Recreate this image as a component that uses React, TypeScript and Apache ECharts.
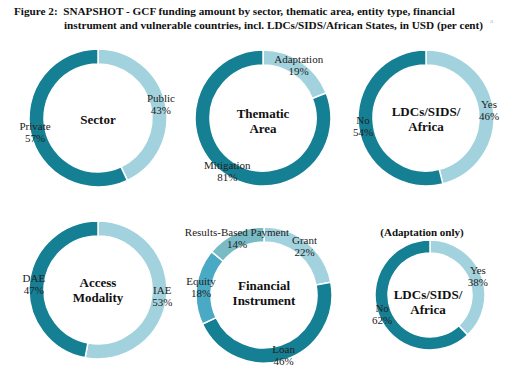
import React, { useEffect, useRef } from "react";
import * as echarts from "echarts";

const DARK = "#157f94";
const LIGHT = "#a2d2dd";
const MID = "#4aa9c4";
const SOFT = "#78bbc4";

const sectorNames = ["Public", "Private"];
const sectorValues = [43, 57];
const thematicNames = ["Adaptation", "Mitigation"];
const thematicValues = [19, 81];
const ldcNames = ["Yes", "No"];
const ldcValues = [46, 54];
const accessNames = ["IAE", "DAE"];
const accessValues = [53, 47];
const instrumentNames = ["Grant", "Loan", "Equity", "Results-Based Payment"];
const instrumentValues = [22, 46, 18, 14];
const adaptLdcNames = ["Yes", "No"];
const adaptLdcValues = [38, 62];

const FONT = "'Liberation Serif', 'DejaVu Serif', serif";

export default function App() {
  const ref = useRef<HTMLDivElement>(null);
  useEffect(() => {
    if (!ref.current) return;
    const chart = echarts.init(ref.current, undefined, { renderer: "svg" });

    const mk = (names: string[], values: number[], colors: string[], cx: number, cy: number, r: number, ir: number) => ({
      type: "pie",
      center: [cx, cy],
      radius: [ir, r],
      startAngle: 90,
      clockwise: true,
      avoidLabelOverlap: false,
      label: {
        show: true,
        position: "inside",
        formatter: (p: any) => `${p.name}\n${p.value}%`,
        color: "#222",
        fontFamily: FONT,
        fontSize: 11,
        lineHeight: 12,
      },
      labelLine: { show: false },
      itemStyle: { borderColor: "#fff", borderWidth: 1.5 },
      emphasis: { disabled: true },
      data: names.map((n, i) => ({ name: n, value: values[i], itemStyle: { color: colors[i] } })),
    });

    const centerText = (x: number, y: number, text: string) => ({
      type: "text",
      x,
      y,
      style: {
        text,
        fontFamily: FONT,
        fontSize: 13,
        fontWeight: "bold",
        fill: "#111",
        align: "center",
        verticalAlign: "middle",
        lineHeight: 15,
      },
    });

    chart.setOption({
      animation: false,
      backgroundColor: "#fff",
      series: [
        mk(sectorNames, sectorValues, [LIGHT, DARK], 98, 118, 69, 54),
        mk(thematicNames, thematicValues, [LIGHT, DARK], 263, 118, 68, 53),
        mk(ldcNames, ldcValues, [LIGHT, DARK], 426, 118, 68, 53),
        mk(accessNames, accessValues, [LIGHT, DARK], 98, 290, 69, 54),
        mk(instrumentNames, instrumentValues, [LIGHT, DARK, MID, SOFT], 264, 295, 68, 53),
        mk(adaptLdcNames, adaptLdcValues, [LIGHT, DARK], 430, 295, 55, 42),
      ],
      graphic: [
        {
          type: "text",
          x: 14,
          y: 11,
          style: {
            text: "Figure 2:  SNAPSHOT - GCF funding amount by sector, thematic area, entity type, financial",
            fontFamily: FONT,
            fontSize: 11.2,
            fontWeight: "bold",
            fill: "#111",
            verticalAlign: "middle",
          },
        },
        {
          type: "text",
          x: 64,
          y: 25,
          style: {
            text: "instrument and vulnerable countries, incl. LDCs/SIDS/African States, in USD (per cent)",
            fontFamily: FONT,
            fontSize: 11.2,
            fontWeight: "bold",
            fill: "#111",
            verticalAlign: "middle",
          },
        },
        {
          type: "text",
          x: 490,
          y: 21,
          style: { text: "a", fontFamily: FONT, fontSize: 7, fill: "#9cc8d3", verticalAlign: "middle" },
        },
        centerText(98, 119, "Sector"),
        centerText(263, 121, "Thematic\nArea"),
        centerText(426, 119, "LDCs/SIDS/\nAfrica"),
        centerText(98, 290, "Access\nModality"),
        centerText(264, 293, "Financial\nInstrument"),
        centerText(428, 302, "LDCs/SIDS/\nAfrica"),
        {
          type: "text",
          x: 422,
          y: 232,
          style: {
            text: "(Adaptation only)",
            fontFamily: FONT,
            fontSize: 11,
            fontWeight: "bold",
            fill: "#111",
            align: "center",
            verticalAlign: "middle",
          },
        },
      ],
    });
    return () => chart.dispose();
  }, []);
  return <div ref={ref} style={{ width: 523, height: 370, position: "absolute", left: 0, top: 0 }} />;
}
